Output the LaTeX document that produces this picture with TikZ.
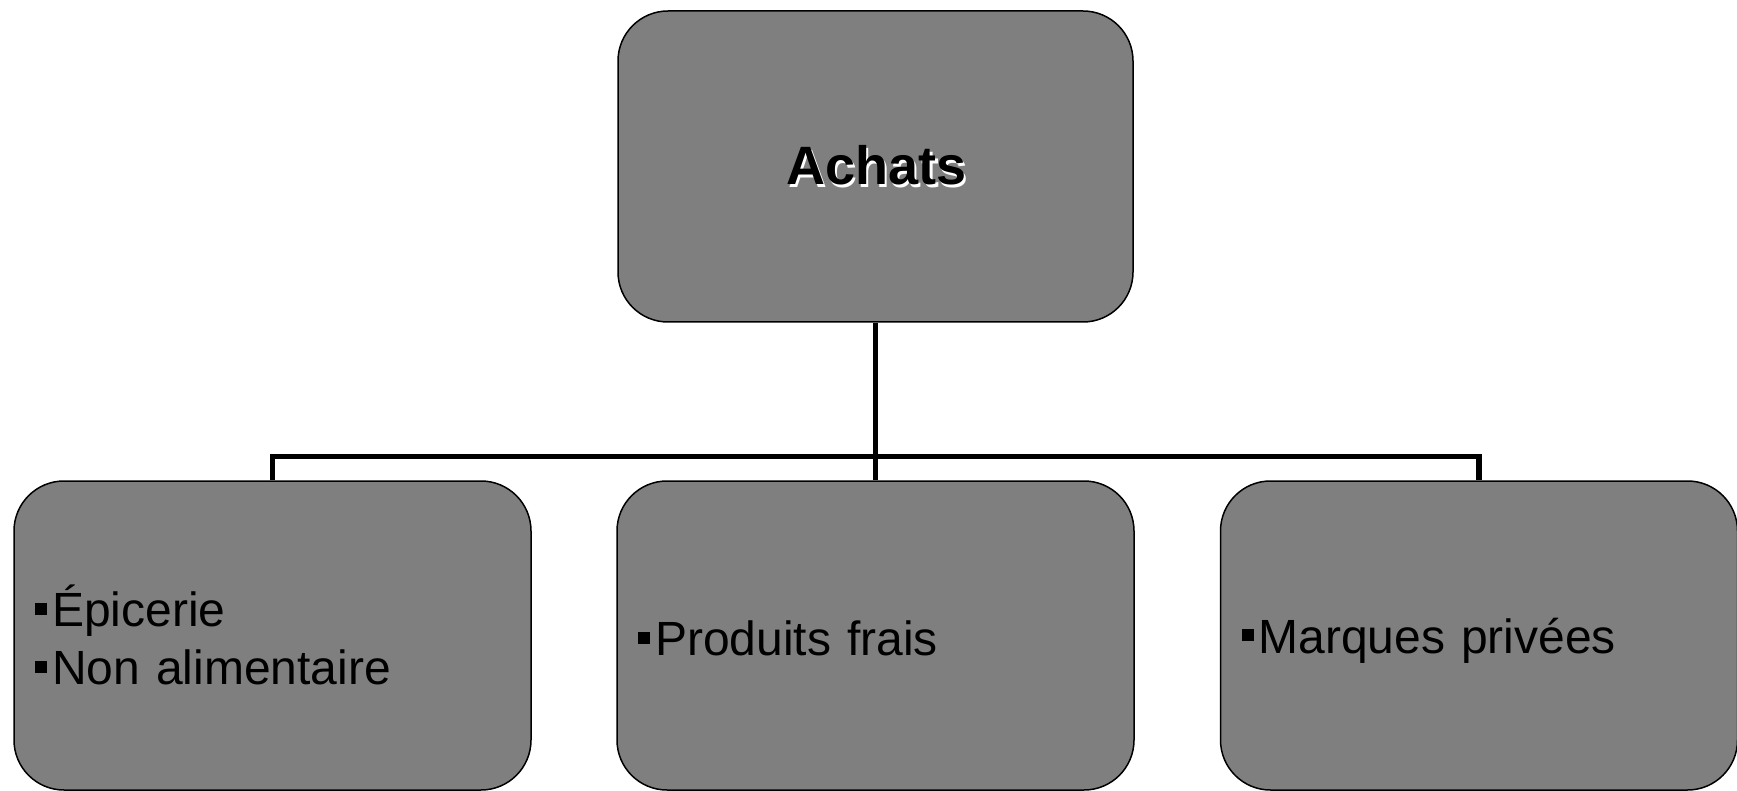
\documentclass[tikz,border=0pt]{standalone}
\usepackage{fontspec}
\setmainfont{Liberation Sans}
\definecolor{boxgray}{RGB}{127,127,127}
\newcommand{\sqbul}{\rule[-5pt]{0pt}{50pt}\rule[12pt]{12pt}{12pt}\hspace{5pt}}
\newcommand{\shadowtext}[1]{\kern2pt\raisebox{-2pt}{\rlap{\kern2.5pt\raisebox{-2.5pt}{\textcolor{white}{#1}}}#1}}
\tikzset{
  card/.style={draw=black, line width=1.5pt, fill=boxgray, rounded corners=50pt,
    minimum height=309pt, inner sep=0pt, inner xsep=21pt, text width=475pt, align=left,
    font=\fontsize{48pt}{58pt}\selectfont},
  topcard/.style={draw=black, line width=1.5pt, fill=boxgray, rounded corners=50pt,
    minimum width=515pt, minimum height=311pt, inner sep=0pt, align=center,
    font=\fontsize{54pt}{64pt}\selectfont\bfseries},
  conn/.style={line width=5.5pt}
}
\begin{document}
\begin{tikzpicture}[x=1pt,y=-1pt]
\useasboundingbox (0,0) rectangle (1737,791);
\node[topcard] (top) at (875.5,166.5) {\shadowtext{Achats}};
\node[card] (b1) at (272.5,635.5) {\sqbul Épicerie\\\sqbul Non alimentaire};
\node[card] (b2) at (875.5,635.5) {\sqbul Produits frais};
\node[card] (b3) at (1479,635.5) {\sqbul Marques privées};
\draw[conn] (top.south) -- (b2.north);
\draw[conn] (b1.north) -- ++(0,-24) -| (b3.north);
\end{tikzpicture}
\end{document}
